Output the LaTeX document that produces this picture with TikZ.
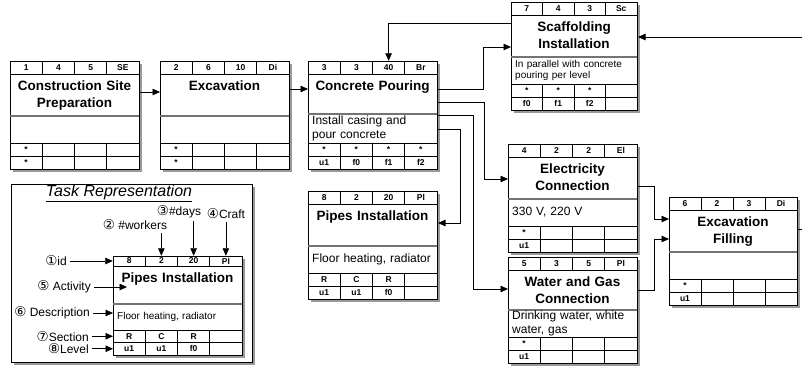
\documentclass[tikz,border=0pt]{standalone}
\usepackage{fontspec}
\setmainfont{Liberation Sans}
\newfontfamily\circfont{DejaVu Sans}
\usetikzlibrary{positioning, calc, arrows.meta}

\newcommand{\numc}[1]{{\circfont\fontsize{13.5}{13}\selectfont #1}}

\tikzset{
	box width/.store in=\bW, head h/.store in=\hH,
	title h/.store in=\tH, desc h/.store in=\dH, row h/.store in=\rH,
	box width=129, head h=13, title h=42, desc h=27, row h=13
}

% one task: [options]{name}{north west corner}{header}{activity}{description}{section row}{level row}
\newcommand{\taskbox}[8][]{%
	\begin{scope}[shift={#3}, #1]
		\pgfmathsetmacro{\yA}{\hH}
		\pgfmathsetmacro{\yB}{\hH+\tH}
		\pgfmathsetmacro{\yC}{\yB+\dH}
		\pgfmathsetmacro{\yD}{\yC+\rH}
		\pgfmathsetmacro{\yE}{\yD+\rH}
		\pgfmathsetmacro{\tW}{\bW-8}
		\fill[shade] (3,3) rectangle (\bW+3,\yE+3);
		\node[taskbg, minimum width=\bW pt, minimum height=\yE pt] (#2) at (0,0) {};
		\draw[cellline] (0,\yA) -- (\bW,\yA) (0,\yC) -- (\bW,\yC) (0,\yD) -- (\bW,\yD);
		\draw[titlesep] (0,\yB) -- (\bW,\yB);
		\foreach \k in {1,2,3}
			\draw[cellline] ({\k*\bW/4},0) -- ({\k*\bW/4},\yA) ({\k*\bW/4},\yC) -- ({\k*\bW/4},\yE);
		\foreach \v [count=\i] in {#4}
			\node[hcell] (#2-h\i) at ({(\i-0.5)*\bW/4},\yA/2) {\v};
		\node[ttl, text width=\tW pt] (#2-t) at (\bW/2,\yA+6.5) {#5};
		\node[dsc, text width=\tW pt] (#2-d) at (4,{\yB+\dH/2}) {#6};
		\foreach \v [count=\i] in {#7}
			\node[rcell] at ({(\i-0.5)*\bW/4},{\yC+\rH/2}) {\v};
		\foreach \v [count=\i] in {#8}
			\node[rcell] at ({(\i-0.5)*\bW/4},{\yD+\rH/2}) {\v};
	\end{scope}}

\begin{document}
\begin{tikzpicture}[
		x=1pt, y=-1pt,
		% frame of a task and its shadow
		taskbg/.style={draw, line width=1pt, fill=white, inner sep=0pt, anchor=north west},
		shade/.style={fill=black!40},
		cellline/.style={line width=0.7pt},
		titlesep/.style={draw=black!55, line width=1.3pt},
		% texts inside a task
		hcell/.style={minimum width={\bW/4*1pt}, minimum height={\hH*1pt}, inner sep=0pt,
			font=\fontsize{8.5}{9}\selectfont\bfseries},
		ttl/.style={anchor=north, align=center, inner sep=0pt, font=\fontsize{13.5}{17.5}\selectfont\bfseries},
		dsc/.style={anchor=west, align=left, inner sep=0pt, font=\fontsize{12}{13.5}\selectfont},
		rcell/.style={inner sep=0pt, font=\fontsize{8.5}{9}\selectfont\bfseries},
		% connectors and legend
		flow/.style={line width=0.75pt, -{Triangle[length=7.5pt, width=6.5pt]}},
		lbl/.style={font=\fontsize{12}{13}\selectfont, inner sep=3pt},
		reptitle/.style={font=\fontsize{16}{18}\selectfont\itshape}
	]
	\path[fill=white, use as bounding box] (0,0) rectangle (802,372);
	
	% ==============================================================================
	% Tasks
	% ==============================================================================
	\taskbox{b1}{(10,61)}{1,4,5,SE}{Construction Site\\Preparation}{}{*}{*}
	\taskbox{b2}{(160,61)}{2,6,10,Di}{Excavation}{}{*}{*}
	\taskbox[title h=40, desc h=29]{b3}{(308,61)}{3,3,40,Br}{Concrete Pouring}{Install casing and\\pour concrete}{*,*,*,*}{u1,f0,f1,f2}
	\taskbox[box width=126, dsc/.append style={font=\fontsize{10}{11}\selectfont}]{b4}{(511,2)}{7,4,3,Sc}{Scaffolding\\Installation}{In parallel with concrete\\pouring per level}{*,*,*}{f0,f1,f2}
	\taskbox{b5}{(308,191)}{8,2,20,Pl}{Pipes Installation}{Floor heating, radiator}{R,C,R}{u1,u1,f0}
	\taskbox{b6}{(508,144)}{4,2,2,El}{Electricity\\Connection}{330 V, 220 V}{*}{u1}
	\taskbox[title h=40]{b7}{(508,257)}{5,3,5,Pl}{Water and Gas\\Connection}{Drinking water, white\\water, gas}{*}{u1}
	\taskbox[box width=128]{b8}{(669,197)}{6,2,3,Di}{Excavation\\Filling}{}{*}{u1}
	
	% ==============================================================================
	% Legend
	% ==============================================================================
	\fill[shade] (14,187) rectangle (255,365);
	\node[taskbg, minimum width=241pt, minimum height=178pt] (rep) at (11,184) {};
	\node[reptitle] (repT) at (119,193) {\underline{Task Representation}};
	\taskbox[head h=10, title h=38, desc h=26, row h=12.5, dsc/.append style={font=\fontsize{10}{12}\selectfont}]{tp}{(113,256)}{8,2,20,Pl}{Pipes Installation}{Floor heating, radiator}{R,C,R}{u1,u1,f0}
	
	\node[lbl, anchor=east] (lId) at (70,261) {\numc{①}id};
	\node[lbl] (lWrk) at (135,225) {\numc{②} \#workers};
	\node[lbl] (lDay) at (179,212) {\numc{③}\#days};
	\node[lbl] (lCrf) at (226,214) {\numc{④}Craft};
	\node[lbl, anchor=east] (lAct) at (94,287) {\numc{⑤} Activity};
	\node[lbl, anchor=east] (lDsc) at (93,313) {\numc{⑥} Description};
	\node[lbl, anchor=east] (lSec) at (92,336.25) {\numc{⑦}Section};
	\node[lbl, anchor=east] (lLvl) at (92,348.75) {\numc{⑧}Level};
	
	\draw[flow] (lId) -- (tp-h1.west);
	\draw[flow] (lWrk.south -| tp-h2) -- (tp-h2.north);
	\draw[flow] (lDay.south -| tp-h3) -- (tp-h3.north);
	\draw[flow] (lCrf.south -| tp-h4) -- (tp-h4.north);
	\draw[flow] (lAct) -- ($(lAct -| tp.west)+(14,0)$);
	\draw[flow] (lDsc) -- (lDsc -| tp.west);
	\draw[flow] (lSec) -- (lSec -| tp.west);
	\draw[flow] (lLvl) -- (lLvl -| tp.west);
	
	% ==============================================================================
	% Dependencies
	% ==============================================================================
	\draw[flow] ([yshift=-31pt]b1.north east) -- ([yshift=-31pt]b2.north west);
	\draw[flow] ([yshift=-28pt]b2.north east) -- ([yshift=-28pt]b3.north west);
	\draw[flow] ([yshift=-21pt]b4.north west) -| (b3-h3.north);
	\draw[flow] ([yshift=-28pt]b3.north east) -- ++(45,0) |- ([yshift=-45pt]b4.north west);
	\coordinate (inR) at (802,37);
	\draw[flow] (inR) -- (inR -| b4.east);
	\draw[flow] ([yshift=-41pt]b3.north east) -- ++(46,0) |- ([yshift=-35pt]b6.north west);
	\draw[flow] ([yshift=-54pt]b3.north east) -- ++(35,0) |- ([yshift=-32pt]b7.north west);
	\draw[flow] ([yshift=-68pt]b3.north east) -- ++(22,0) |- ([yshift=-32pt]b5.north east);
	\draw[flow] ([yshift=-42pt]b6.north east) -- ++(16,0) |- ([yshift=-22pt]b8.north west);
	\draw[flow] ([yshift=-33pt]b7.north east) -- ++(16,0) |- ([yshift=-42pt]b8.north west);
	\coordinate (outR) at (802,229);
	\draw[line width=0.75pt] (b8.east |- outR) -- (outR);
\end{tikzpicture}
\end{document}
